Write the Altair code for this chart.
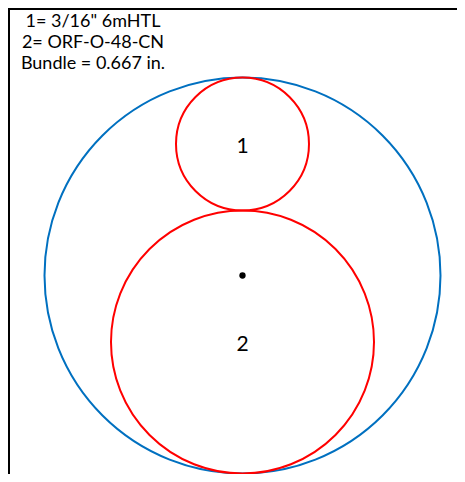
import altair as alt
import pandas as pd

# ---- data (inches) ----
bundle_diameter = 0.667
circle_labels = ["1", "2"]
circle_diameters = [0.224, 0.443]
circle_center_y = [0.2215, -0.112]
legend_lines = ['1= 3/16" 6mHTL', "2= ORF-O-48-CN", "Bundle = 0.667 in."]
legend_rows = [0, 1, 2]

W, H = 449, 466
k = 396 / bundle_diameter          # pixels per inch
cx_px, cy_px = 234.5, 267.5        # bundle centre within the view

xdom = [-cx_px / k, (W - cx_px) / k]
ydom = [-(H - cy_px) / k, cy_px / k]
xs = alt.Scale(domain=xdom, nice=False, zero=False)
ys = alt.Scale(domain=ydom, nice=False, zero=False)
size_scale = alt.Scale(type="pow", exponent=2, domain=[0, bundle_diameter], range=[0, 396 ** 2])

bundle_df = pd.DataFrame({"x": [0.0], "y": [0.0], "d": [bundle_diameter]})
circ_df = pd.DataFrame({"x": [0.0, 0.0], "y": circle_center_y, "d": circle_diameters, "label": circle_labels})
legend_df = pd.DataFrame({"t": legend_lines, "row": legend_rows})

X = alt.X("x:Q", scale=xs, axis=None)
Y = alt.Y("y:Q", scale=ys, axis=None)

bundle = alt.Chart(bundle_df).mark_point(shape="circle", filled=False, stroke="#0070C0", strokeWidth=2, opacity=1).encode(
    x=X, y=Y, size=alt.Size("d:Q", scale=size_scale, legend=None),
)
circles = alt.Chart(circ_df).mark_point(shape="circle", filled=False, stroke="#FF0000", strokeWidth=2, opacity=1).encode(
    x=X, y=Y, size=alt.Size("d:Q", scale=size_scale, legend=None),
)
labels = alt.Chart(circ_df).mark_text(fontSize=21, font="Lato", color="black", baseline="middle", dy=3).encode(
    x=X, y=Y, text="label:N",
)
dot = alt.Chart(bundle_df).mark_point(shape="circle", filled=True, color="black", size=40, opacity=1).encode(
    x=X, y=Y,
)
legend = alt.Chart(legend_df).mark_text(fontSize=18, font="Lato", color="black", baseline="middle", align="center").encode(
    x=alt.value(85),
    y=alt.Y("row:Q", scale=alt.Scale(domain=[0, 2], range=[14, 56]), axis=None),
    text="t:N",
)
border_left = alt.Chart(bundle_df).mark_rule(color="black", strokeWidth=2).encode(
    x=alt.value(1), y=alt.value(0), y2=alt.value(H)
)
border_top = alt.Chart(bundle_df).mark_rule(color="black", strokeWidth=2).encode(
    x=alt.value(0), x2=alt.value(W), y=alt.value(1)
)

chart = alt.layer(bundle, circles, dot, labels, legend, border_left, border_top).properties(
    width=W, height=H, padding=0, autosize=alt.AutoSizeParams(type="none")
).resolve_scale(y="independent").configure_view(stroke=None)

chart.save("out.html", embed_options={"renderer": "svg", "actions": False})
